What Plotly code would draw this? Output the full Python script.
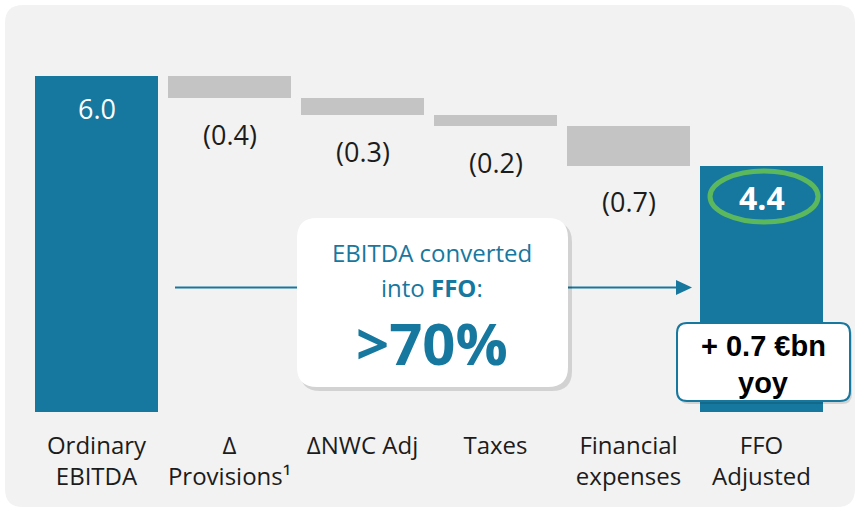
import plotly.graph_objects as go

# ---------------- data ----------------
categories = ["Ordinary<br>EBITDA", "Δ<br>Provisions¹", "ΔNWC Adj", "Taxes",
              "Financial<br>expenses", "FFO<br>Adjusted"]
kinds = ["total", "delta", "delta", "delta", "delta", "total"]
values = [6.0, -0.4, -0.3, -0.2, -0.7, 4.4]
yoy_change = 0.7          # €bn
conversion_text = ">70%"

# ---------------- styling ----------------
TEAL = "#17789f"
GREY = "#c4c4c4"
PANEL = "#f2f2f2"
GREEN = "#5cb85c"
TXT = "#1c1c1c"
FONT = "Open Sans"

W, H = 856, 509
ML, MR, MT, MB = 30, 28, 20, 97
PW, PH = W - ML - MR, H - MT - MB


def px(x):
    return (x - ML) / PW


def py(y):
    return (H - MB - y) / PH


def rrect(x0, y0, x1, y1, r):
    pts = [
        ("M", [(x0 + r, y0)]),
        ("L", [(x1 - r, y0)]),
        ("Q", [(x1, y0), (x1, y0 + r)]),
        ("L", [(x1, y1 - r)]),
        ("Q", [(x1, y1), (x1 - r, y1)]),
        ("L", [(x0 + r, y1)]),
        ("Q", [(x0, y1), (x0, y1 - r)]),
        ("L", [(x0, y0 + r)]),
        ("Q", [(x0, y0), (x0 + r, y0)]),
    ]
    s = ""
    for cmd, ps in pts:
        s += cmd + " " + " ".join(f"{px(a):.5f},{py(b):.5f}" for a, b in ps) + " "
    return s + "Z"


# ---------------- waterfall geometry from data ----------------
bases, heights, colors = [], [], []
running = 0.0
for k, v in zip(kinds, values):
    if k == "total":
        bases.append(0.0)
        heights.append(v)
        colors.append(TEAL)
        running = v
    else:
        new = running + v
        bases.append(min(running, new))
        heights.append(abs(v))
        colors.append(GREY)
        running = new

xs = list(range(len(categories)))

fig = go.Figure(go.Bar(
    x=xs, y=heights, base=bases, marker=dict(color=colors, line=dict(width=0)),
    width=0.925, hoverinfo="skip",
))

annotations = []
for i, (k, v, b, h) in enumerate(zip(kinds, values, bases, heights)):
    if k == "total":
        bold = i == len(values) - 1
        annotations.append(dict(
            x=i, y=b + h, xref="x", yref="y", xanchor="center", yanchor="middle", yshift=-32,
            text=(f"<b>{v:.1f}</b>" if bold else f"{v:.1f}"), showarrow=False,
            font=dict(family=FONT, size=32 if bold else 27, color="white"),
        ))
    else:
        annotations.append(dict(
            x=i, y=b, xref="x", yref="y", xanchor="center", yanchor="middle", yshift=-36,
            text=f"({abs(v):.1f})", showarrow=False,
            font=dict(family=FONT, size=27, color=TXT),
        ))


def note(x, y, text, size, color, family=FONT):
    return dict(x=px(x), y=py(y), xref="paper", yref="paper", xanchor="center",
                yanchor="middle", showarrow=False, text=text,
                font=dict(family=family, size=size, color=color))


# conversion box text and yoy box text
annotations += [
    note(432, 252, "EBITDA converted", 24, TEAL),
    note(432, 287, "into <b>FFO</b>:", 24, TEAL),
    note(432, 342, f"<b>{conversion_text}</b>", 58, TEAL),
    note(763, 346, f"<b>+ {yoy_change:.1f} €bn</b>", 29, "black", "Liberation Sans"),
    note(763, 383, "<b>yoy</b>", 29, "black", "Liberation Sans"),
]

shapes = [
    # background panel
    dict(type="path", path=rrect(5, 5, 855, 507, 18), xref="paper", yref="paper",
         fillcolor=PANEL, line=dict(width=0), layer="below"),
    # arrow line + head
    dict(type="line", x0=px(175), x1=px(678), y0=py(287.5), y1=py(287.5),
         xref="paper", yref="paper", line=dict(color=TEAL, width=2.2), layer="above"),
    dict(type="path", xref="paper", yref="paper", layer="above",
         path=f"M {px(676)},{py(280)} L {px(692)},{py(287.5)} L {px(676)},{py(295)} Z",
         fillcolor=TEAL, line=dict(width=0)),
    # conversion box (shadow + box)
    dict(type="path", path=rrect(300, 222, 572, 391, 20), xref="paper", yref="paper",
         fillcolor="rgba(0,0,0,0.13)", line=dict(width=0), layer="above"),
    dict(type="path", path=rrect(297, 218, 568, 387, 20), xref="paper", yref="paper",
         fillcolor="white", line=dict(width=0), layer="above"),
    # yoy box (shadow + box)
    dict(type="path", path=rrect(679, 326, 852, 404, 10), xref="paper", yref="paper",
         fillcolor="rgba(0,0,0,0.13)", line=dict(width=0), layer="above"),
    dict(type="path", path=rrect(677, 323, 850, 401, 10), xref="paper", yref="paper",
         fillcolor="white", line=dict(color=TEAL, width=2), layer="above"),
    # green highlight ellipse
    dict(type="circle", xref="paper", yref="paper", x0=px(710), x1=px(818),
         y0=py(222), y1=py(171), line=dict(color=GREEN, width=5), layer="above"),
]

fig.update_layout(
    width=W, height=H,
    margin=dict(l=ML, r=MR, t=MT, b=MB),
    paper_bgcolor="white", plot_bgcolor="rgba(0,0,0,0)",
    showlegend=False, bargap=0,
    font=dict(family=FONT, color=TXT),
    xaxis=dict(range=[-0.5, len(categories) - 0.5], tickvals=xs, ticktext=categories,
               showgrid=False, zeroline=False, showline=False, ticks="",
               tickfont=dict(family=FONT, size=24, color=TXT), ticklabelstandoff=17,
               fixedrange=True),
    yaxis=dict(range=[0, PH / 56], visible=False, fixedrange=True),
    annotations=annotations,
    shapes=shapes,
)

fig.write_html("out.html", config={"displayModeBar": False},
               post_script="document.body.style.margin='0';document.body.style.overflow='hidden';")
